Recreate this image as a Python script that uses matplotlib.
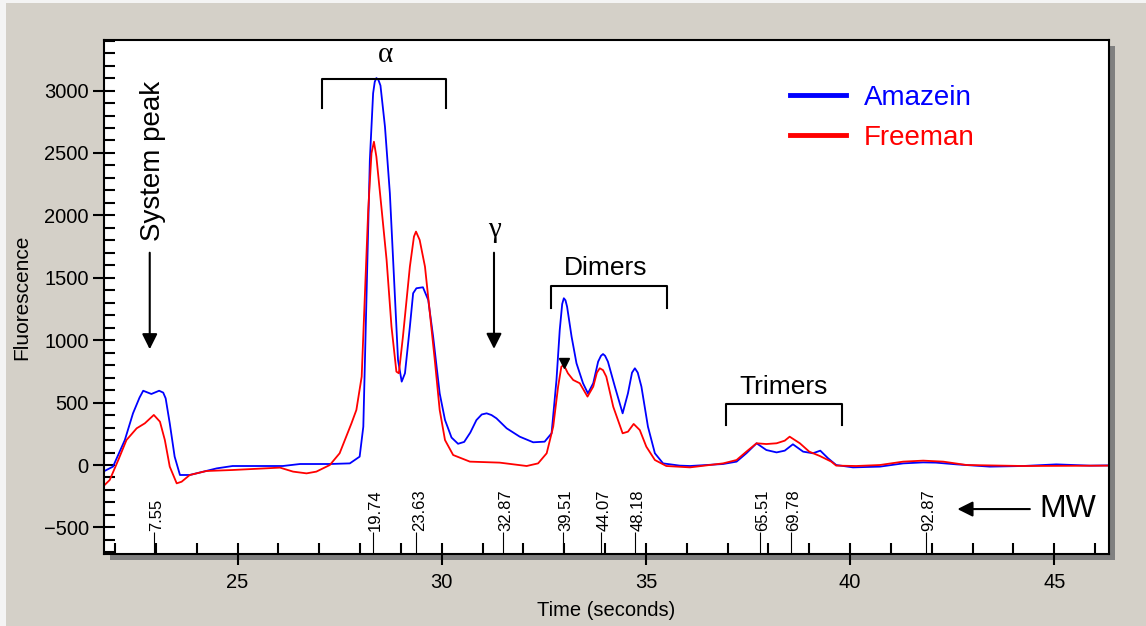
import numpy as np
import matplotlib.pyplot as plt
from matplotlib.patches import Rectangle
from matplotlib.ticker import MultipleLocator

# electropherogram traces (time in s, fluorescence)
amazein_t = [21.73, 21.95, 22.24, 22.44, 22.60, 22.69, 22.89, 23.08, 23.18, 23.24, 23.34, 23.46,
             23.59, 23.83, 24.49, 24.88, 26.11, 26.53, 27.26, 27.75, 27.99, 28.08, 28.16, 28.24,
             28.32, 28.36, 28.40, 28.45, 28.50, 28.61, 28.73, 28.85, 28.93, 29.02, 29.10, 29.22,
             29.30, 29.38, 29.54, 29.67, 29.79, 29.95, 30.08, 30.24, 30.40, 30.55, 30.70, 30.85,
             30.98, 31.10, 31.22, 31.34, 31.59, 31.91, 32.24, 32.52, 32.69, 32.81, 32.89, 32.95,
             32.99, 33.03, 33.07, 33.18, 33.30, 33.46, 33.58, 33.71, 33.83, 33.90, 33.95, 34.00,
             34.07, 34.24, 34.43, 34.56, 34.66, 34.73, 34.80, 34.89, 35.05, 35.22, 35.42, 35.83,
             36.08, 36.89, 37.22, 37.46, 37.71, 37.95, 38.20, 38.40, 38.60, 38.85, 39.09, 39.27,
             39.46, 39.66, 40.07, 40.73, 41.30, 41.79, 42.10, 42.61, 43.42, 44.24, 45.05, 45.87,
             46.34]
amazein_y = [-50, -13, 200, 414, 540, 595, 569, 595, 580, 534, 334, 67,
             -80, -80, -27, -8, -8, 8, 8, 13, 67, 307, 1376, 2444,
             2978, 3070, 3100, 3085, 3040, 2711, 2177, 1376, 841, 668, 735, 1108,
             1376, 1416, 1424, 1322, 1028, 574, 361, 220, 170, 185, 260, 360,
             405, 414, 400, 374, 294, 227, 182, 187, 254, 681, 1082, 1290,
             1336, 1320, 1268, 1028, 815, 655, 574, 655, 828, 875, 889, 875,
             828, 628, 414, 574, 740, 775, 740, 628, 307, 94, 13, -5,
             -8, 8, 27, 94, 174, 120, 101, 115, 166, 107, 94, 115,
             54, 0, -19, -13, 13, 21, 19, 5, -13, -8, 5, -5,
             -3]

freeman_t = [21.73, 21.87, 22.08, 22.28, 22.53, 22.73, 22.95, 23.10, 23.22, 23.34, 23.51, 23.63,
             23.83, 24.24, 24.88, 26.04, 26.36, 26.69, 26.93, 27.26, 27.50, 27.79, 27.91, 28.04,
             28.12, 28.20, 28.28, 28.34, 28.40, 28.53, 28.65, 28.77, 28.89, 28.95, 29.05, 29.22,
             29.32, 29.37, 29.46, 29.59, 29.71, 29.83, 29.95, 30.08, 30.28, 30.69, 31.42, 32.08,
             32.36, 32.57, 32.73, 32.85, 32.93, 32.99, 33.09, 33.22, 33.38, 33.57, 33.71, 33.80,
             33.87, 33.95, 34.03, 34.20, 34.43, 34.56, 34.70, 34.85, 35.01, 35.22, 35.50, 36.08,
             36.89, 37.22, 37.46, 37.71, 37.95, 38.20, 38.40, 38.52, 38.77, 39.00, 39.26, 39.54,
             39.66, 40.15, 40.73, 41.30, 41.79, 42.28, 42.85, 44.24, 46.34]
freeman_y = [-165, -120, 40, 200, 294, 334, 401, 347, 200, -13, -147, -134,
             -80, -48, -40, -21, -53, -67, -53, 0, 94, 334, 441, 708,
             1376, 2043, 2498, 2590, 2470, 2043, 1643, 1108, 748, 735, 1028, 1589,
             1830, 1870, 1803, 1589, 1216, 841, 441, 200, 80, 27, 19, -8,
             13, 94, 307, 628, 788, 801, 735, 681, 655, 548, 628, 740,
             775, 760, 708, 467, 254, 267, 329, 280, 147, 40, -8, -19,
             13, 40, 107, 174, 168, 174, 195, 227, 174, 107, 72, 27,
             -5, -8, 0, 27, 35, 27, 0, -8, -5]

# molecular weight ladder markers
mw_times = [22.96, 28.31, 29.38, 31.51, 32.96, 33.90, 34.74, 37.79, 38.55, 41.86]
mw_labels = ['7.55', '19.74', '23.63', '32.87', '39.51', '44.07', '48.18', '65.51', '69.78', '92.87']

# bracketed regions: (label, left, right, top, bottom, text x, text y)
brackets = [
    ('Dimers', 32.68, 35.51, 1432, 1258, 34.01, 1578),
    ('Trimers', 36.97, 39.80, 486, 320, 38.36, 627),
]

plt.rcParams['font.family'] = ['Liberation Sans', 'DejaVu Sans']

W, H = 1146, 626
fig = plt.figure(figsize=(W / 100, H / 100), dpi=100, facecolor='#f4f4f4')
fig.patches.append(Rectangle((6 / W, 0), 1 - 6 / W, 1 - 3 / H, transform=fig.transFigure,
                             facecolor='#d4d0c8', edgecolor='none', zorder=-3))
l, b, r, t = 104, 554, 1109, 40
ax = fig.add_axes([l / W, 1 - b / H, (r - l) / W, (b - t) / H])
# drop shadow behind the plot area
fig.patches.append(Rectangle(((l + 6) / W, 1 - (b + 6) / H), (r - l) / W, (b - t) / H,
                             transform=fig.transFigure, facecolor='#808080',
                             edgecolor='none', zorder=-1))

ax.plot(amazein_t, amazein_y, color='#0000ff', lw=1.3, label='Amazein')
ax.plot(freeman_t, freeman_y, color='#ff0000', lw=1.3, label='Freeman')

ax.set_xlim(21.73, 46.34)
ax.set_ylim(-713, 3405)

ax.xaxis.set_major_locator(MultipleLocator(5))
ax.xaxis.set_minor_locator(MultipleLocator(1))
ax.yaxis.set_major_locator(MultipleLocator(500))
ax.yaxis.set_minor_locator(MultipleLocator(100))
ax.tick_params(which='major', direction='inout', length=16, width=1.5, labelsize=14.5, pad=3)
ax.tick_params(axis='x', which='major', pad=6)
ax.tick_params(which='minor', direction='in', length=8, width=1.5)
for s in ax.spines.values():
    s.set_linewidth(1.5)

ax.set_xlabel('Time (seconds)', fontsize=14.5, labelpad=6)
ax.set_ylabel('Fluorescence', fontsize=15, labelpad=9)

# MW ladder ticks along the bottom
ax.vlines(mw_times, -713, -535, color='k', lw=0.8)
for x, lab in zip(mw_times, mw_labels):
    ax.annotate(lab, (x, -530), xytext=(2, 0), textcoords='offset points',
                rotation=90, ha='center', va='bottom', fontsize=12)
ax.annotate('', xy=(42.56, -353), xytext=(44.47, -353),
            arrowprops=dict(arrowstyle='-|>', color='k', lw=1.5, mutation_scale=23))
ax.text(44.63, -353, 'MW', fontsize=23, va='center', ha='left')

# peak annotations
ax.text(22.92, 2436, 'System peak', rotation=90, fontsize=20, ha='center', va='center')
ax.annotate('', xy=(22.85, 905), xytext=(22.85, 1723),
            arrowprops=dict(arrowstyle='-|>', color='k', lw=1.5, mutation_scale=23))
ax.text(31.28, 1880, 'γ', fontsize=21, family=['Liberation Serif', 'DejaVu Serif'],
        ha='center', va='center')
ax.annotate('', xy=(31.28, 908), xytext=(31.28, 1723),
            arrowprops=dict(arrowstyle='-|>', color='k', lw=1.5, mutation_scale=23))
ax.plot([32.99], [815], marker='v', color='k', markersize=7)

ax.plot([27.07, 27.07, 30.10, 30.10], [2861, 3093, 3093, 2861], color='k', lw=1.5)
ax.text(28.63, 3285, 'α', fontsize=21, family=['Liberation Serif', 'DejaVu Serif'],
        ha='center', va='center')
for lab, x0, x1, top, bot, tx, ty in brackets:
    ax.plot([x0, x0, x1, x1], [bot, top, top, bot], color='k', lw=1.5)
    ax.text(tx, ty, lab, fontsize=19, ha='center', va='center')

leg = ax.legend(loc='upper left', bbox_to_anchor=(0.683, 0.913), frameon=False, fontsize=20,
                labelcolor='linecolor', handlelength=2.0, handletextpad=0.65,
                labelspacing=0.5, borderpad=0, borderaxespad=0)
for h in leg.legend_handles:
    h.set_linewidth(3.5)

fig.savefig('out.png', dpi=100, facecolor=fig.get_facecolor())
